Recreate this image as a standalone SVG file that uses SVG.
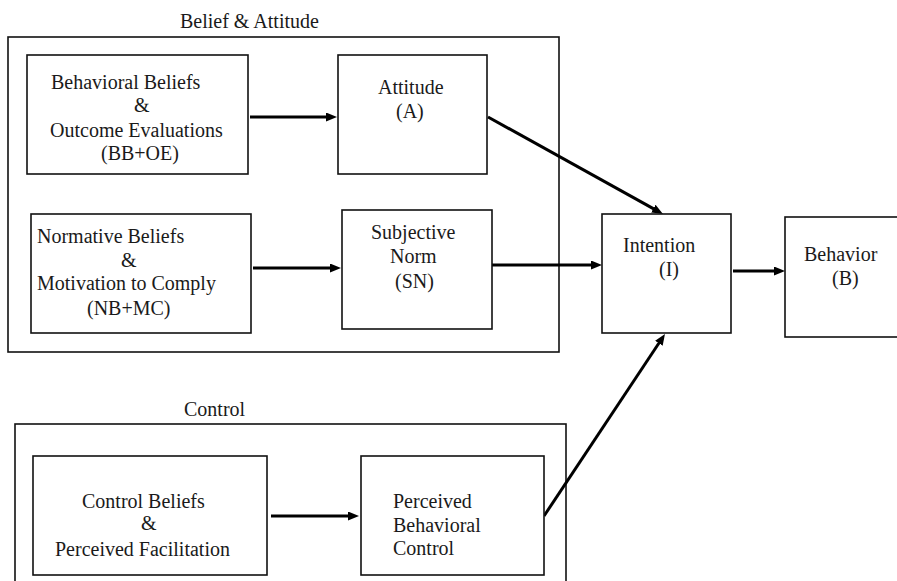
<svg xmlns="http://www.w3.org/2000/svg" width="897" height="581" viewBox="0 0 897 581" font-family="'Liberation Serif', 'DejaVu Serif', serif" font-size="20">
<style>
  .grp { fill: none; stroke: #111; stroke-width: 1.6; }
  .box { fill: #fff; stroke: #111; stroke-width: 1.6; }
  text { font-family: 'Liberation Serif', 'DejaVu Serif', serif; font-size: 20px; fill: #1a1a1a; }
  .conn { stroke: #000; stroke-width: 3; fill: none; marker-end: url(#ah); }
</style>
<defs>
  <marker id="ah" markerUnits="userSpaceOnUse" markerWidth="12" markerHeight="10" refX="2" refY="4.5" orient="auto">
    <path d="M0,0 L11,4.5 L0,9 z" fill="#000"/>
  </marker>
</defs>
<rect width="897" height="581" fill="#fff"/>

<g id="group-belief">
  <rect class="grp" x="8" y="37" width="551" height="315"/>
  <text x="180" y="28">Belief &amp; Attitude</text>
</g>
<g id="group-control">
  <rect class="grp" x="15" y="424" width="551" height="170"/>
  <text x="184" y="416">Control</text>
</g>

<g id="connectors">
  <line class="conn" x1="250" y1="117" x2="328" y2="117"/>
  <line class="conn" x1="253" y1="268" x2="332" y2="268"/>
  <line class="conn" x1="492" y1="265" x2="593" y2="265"/>
  <line class="conn" x1="733" y1="271" x2="776" y2="271"/>
  <line class="conn" x1="271" y1="516" x2="350" y2="516"/>
  <line class="conn" x1="488" y1="117" x2="655.1" y2="209.6"/>
  <line class="conn" x1="544" y1="516" x2="660" y2="341.5"/>
</g>

<g id="node-bboe">
  <rect class="box" x="27" y="55" width="221" height="119"/>
  <text x="51" y="89">Behavioral Beliefs</text>
  <text x="134" y="112">&amp;</text>
  <text x="50" y="137">Outcome Evaluations</text>
  <text x="101" y="160">(BB+OE)</text>
</g>
<g id="node-attitude">
  <rect class="box" x="338" y="55" width="149" height="119"/>
  <text x="378" y="94">Attitude</text>
  <text x="396" y="118">(A)</text>
</g>
<g id="node-nbmc">
  <rect class="box" x="31" y="214" width="220" height="119"/>
  <text x="37" y="243">Normative Beliefs</text>
  <text x="121" y="267">&amp;</text>
  <text x="37" y="290">Motivation to Comply</text>
  <text x="87" y="315">(NB+MC)</text>
</g>
<g id="node-sn">
  <rect class="box" x="342" y="210" width="150" height="119"/>
  <text x="371" y="239">Subjective</text>
  <text x="390" y="263">Norm</text>
  <text x="395" y="288">(SN)</text>
</g>
<g id="node-intention">
  <rect class="box" x="602" y="214" width="129" height="119"/>
  <text x="623" y="252">Intention</text>
  <text x="659" y="276">(I)</text>
</g>
<g id="node-behavior">
  <rect class="box" x="785" y="217" width="130" height="120"/>
  <text x="804" y="261">Behavior</text>
  <text x="832" y="285">(B)</text>
</g>
<g id="node-cbpf">
  <rect class="box" x="33" y="456" width="234" height="119"/>
  <text x="82" y="508">Control Beliefs</text>
  <text x="141" y="530">&amp;</text>
  <text x="55" y="556">Perceived Facilitation</text>
</g>
<g id="node-pbc">
  <rect class="box" x="361" y="456" width="183" height="119"/>
  <text x="393" y="508">Perceived</text>
  <text x="393" y="532">Behavioral</text>
  <text x="393" y="555">Control</text>
</g>
</svg>
